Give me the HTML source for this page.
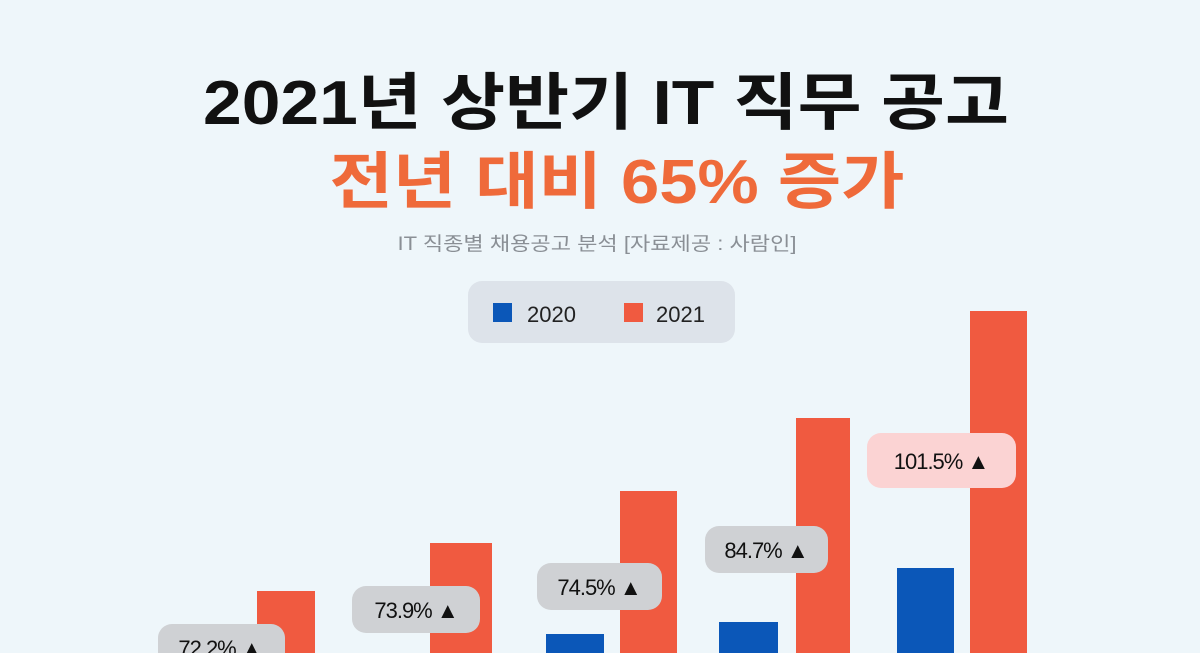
<!DOCTYPE html>
<html><head><meta charset="utf-8"><style>
html,body{margin:0;padding:0;background:#eef6fa;}
svg{display:block}
text{font-family:"Liberation Sans","Noto Sans CJK KR",sans-serif;}
</style></head><body>
<svg width="1200" height="653" viewBox="0 0 1200 653" xmlns="http://www.w3.org/2000/svg">
<rect width="1200" height="653" fill="#eef6fa"/>
<text x="606" y="124" text-anchor="middle" font-size="62" font-weight="700" fill="#111" textLength="806" lengthAdjust="spacingAndGlyphs">2021년 상반기 IT 직무 공고</text>
<text x="617" y="203" text-anchor="middle" font-size="62" font-weight="700" fill="#ef6a3a" textLength="575" lengthAdjust="spacingAndGlyphs">전년 대비 65% 증가</text>
<text x="597" y="250" text-anchor="middle" font-size="19" fill="#8a8f95" textLength="399" lengthAdjust="spacingAndGlyphs">IT 직종별 채용공고 분석 [자료제공 : 사람인]</text>
<rect x="468" y="281" width="267" height="62" rx="14" fill="#dde3ea"/>
<rect x="493" y="303" width="19" height="19" fill="#0b57b8"/>
<text x="527" y="322" font-size="22" fill="#222">2020</text>
<rect x="624" y="303" width="19" height="19" fill="#f05a40"/>
<text x="656" y="322" font-size="22" fill="#222">2021</text>
<g fill="#f05a40">
<rect x="257" y="591" width="58" height="62"/>
<rect x="430" y="543" width="62" height="110"/>
<rect x="620" y="491" width="57" height="162"/>
<rect x="796" y="418" width="54" height="235"/>
<rect x="970" y="311" width="57" height="342"/>
</g>
<g fill="#0b57b8">
<rect x="546" y="634" width="58" height="19"/>
<rect x="719" y="622" width="59" height="31"/>
<rect x="897" y="568" width="57" height="85"/>
</g>
<g font-size="22" fill="#111" text-anchor="middle" letter-spacing="-1">
<rect x="158" y="624" width="127" height="50" rx="14" fill="#cfd1d4"/>
<text x="220" y="656">72.2% ▲</text>
<rect x="352" y="586" width="128" height="47" rx="14" fill="#cfd1d4"/>
<text x="416" y="618">73.9% ▲</text>
<rect x="537" y="563" width="125" height="47" rx="14" fill="#cfd1d4"/>
<text x="599" y="595">74.5% ▲</text>
<rect x="705" y="526" width="123" height="47" rx="14" fill="#cfd1d4"/>
<text x="766" y="558">84.7% ▲</text>
<rect x="867" y="433" width="149" height="55" rx="14" fill="#fbd3d3"/>
<text x="941" y="469">101.5% ▲</text>
</g>
</svg>
</body></html>
